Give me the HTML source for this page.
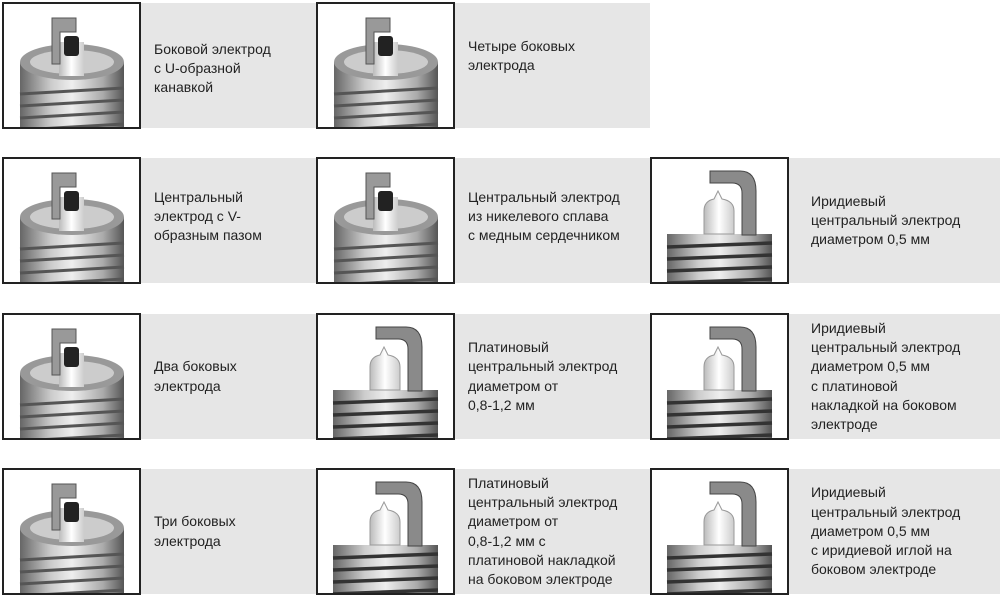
<!DOCTYPE html>
<html><head><meta charset="utf-8"><style>
body{margin:0;width:1000px;height:598px;background:#fff;position:relative;overflow:hidden;font-family:"Liberation Sans",sans-serif}
.img{position:absolute;box-sizing:border-box;border:2px solid #222;background:#fff;width:139px;height:127px;overflow:hidden}
.img svg{display:block}
.txt{position:absolute;background:#e6e6e6;height:125px;display:flex;align-items:center;font-size:14px;line-height:19.3px;color:#222;box-sizing:border-box;padding-left:13px}
</style></head><body>
<svg width="0" height="0" style="position:absolute">
<defs>
<linearGradient id="m" x1="0" x2="1"><stop offset="0" stop-color="#666"/><stop offset=".3" stop-color="#ccc"/><stop offset=".5" stop-color="#eee"/><stop offset=".8" stop-color="#aaa"/><stop offset="1" stop-color="#555"/></linearGradient>
<linearGradient id="w" x1="0" x2="1"><stop offset="0" stop-color="#bbb"/><stop offset=".5" stop-color="#fff"/><stop offset="1" stop-color="#ccc"/></linearGradient>
<symbol id="a" viewBox="0 0 135 123">
<rect x="16" y="58" width="104" height="70" fill="url(#m)"/>
<g stroke="#555" stroke-width="3"><line x1="16" y1="90" x2="120" y2="84"/><line x1="16" y1="102" x2="120" y2="96"/><line x1="16" y1="114" x2="120" y2="108"/><line x1="16" y1="126" x2="120" y2="120"/></g>
<ellipse cx="68" cy="58" rx="52" ry="18" fill="#999"/>
<ellipse cx="68" cy="58" rx="42" ry="12" fill="#ccc"/>
<rect x="55" y="38" width="25" height="34" fill="url(#w)"/>
<rect x="60" y="32" width="15" height="20" rx="3" fill="#222"/>
<path d="M48 60 V14 H72 V28 H56 V60Z" fill="#999" stroke="#555"/>
</symbol>
<symbol id="b" viewBox="0 0 135 123">
<rect x="15" y="75" width="105" height="50" fill="url(#m)"/>
<g stroke="#333" stroke-width="3.5"><line x1="15" y1="88" x2="120" y2="84"/><line x1="15" y1="100" x2="120" y2="96"/><line x1="15" y1="112" x2="120" y2="108"/><line x1="15" y1="124" x2="120" y2="120"/></g>
<path d="M52 75 V52 Q52 42 62 40 L66 32 L70 40 Q82 42 82 52 V75Z" fill="url(#w)" stroke="#999"/>
<path d="M58 22 V12 H88 Q104 12 104 32 V76 H90 V34 Q90 24 80 24 H58Z" fill="#8a8a8a" stroke="#444"/>
</symbol>
</defs></svg>

<div class="img" style="left:2px;top:2px"><svg width="135" height="123"><use href="#a"/></svg></div>
<div class="txt" style="left:141px;top:3px;width:175px;padding-top:6px">Боковой электрод<br>с U-образной<br>канавкой</div>
<div class="img" style="left:316px;top:2px"><svg width="135" height="123"><use href="#a"/></svg></div>
<div class="txt" style="left:455px;top:3px;width:195px;align-items:flex-start;padding-top:34px">Четыре боковых<br>электрода</div>

<div class="img" style="left:2px;top:157px"><svg width="135" height="123"><use href="#a"/></svg></div>
<div class="txt" style="left:141px;top:158px;width:175px;padding-bottom:8px">Центральный<br>электрод с V-<br>образным пазом</div>
<div class="img" style="left:316px;top:157px"><svg width="135" height="123"><use href="#a"/></svg></div>
<div class="txt" style="left:455px;top:158px;width:195px;padding-bottom:8px">Центральный электрод<br>из никелевого сплава<br>с медным сердечником</div>
<div class="img" style="left:650px;top:157px"><svg width="135" height="123"><use href="#b"/></svg></div>
<div class="txt" style="left:789px;top:158px;width:211px;padding-left:22px">Иридиевый<br>центральный электрод<br>диаметром 0,5 мм</div>

<div class="img" style="left:2px;top:313px"><svg width="135" height="123"><use href="#a"/></svg></div>
<div class="txt" style="left:141px;top:314px;width:175px">Два боковых<br>электрода</div>
<div class="img" style="left:316px;top:313px"><svg width="135" height="123"><use href="#b"/></svg></div>
<div class="txt" style="left:455px;top:314px;width:195px">Платиновый<br>центральный электрод<br>диаметром от<br>0,8-1,2 мм</div>
<div class="img" style="left:650px;top:313px"><svg width="135" height="123"><use href="#b"/></svg></div>
<div class="txt" style="left:789px;top:314px;width:211px;padding-left:22px">Иридиевый<br>центральный электрод<br>диаметром 0,5 мм<br>с платиновой<br>накладкой на боковом<br>электроде</div>

<div class="img" style="left:2px;top:468px"><svg width="135" height="123"><use href="#a"/></svg></div>
<div class="txt" style="left:141px;top:469px;width:175px">Три боковых<br>электрода</div>
<div class="img" style="left:316px;top:468px"><svg width="135" height="123"><use href="#b"/></svg></div>
<div class="txt" style="left:455px;top:469px;width:195px">Платиновый<br>центральный электрод<br>диаметром от<br>0,8-1,2 мм с<br>платиновой накладкой<br>на боковом электроде</div>
<div class="img" style="left:650px;top:468px"><svg width="135" height="123"><use href="#b"/></svg></div>
<div class="txt" style="left:789px;top:469px;width:211px;padding-left:22px">Иридиевый<br>центральный электрод<br>диаметром 0,5 мм<br>с иридиевой иглой на<br>боковом электроде</div>
</body></html>
